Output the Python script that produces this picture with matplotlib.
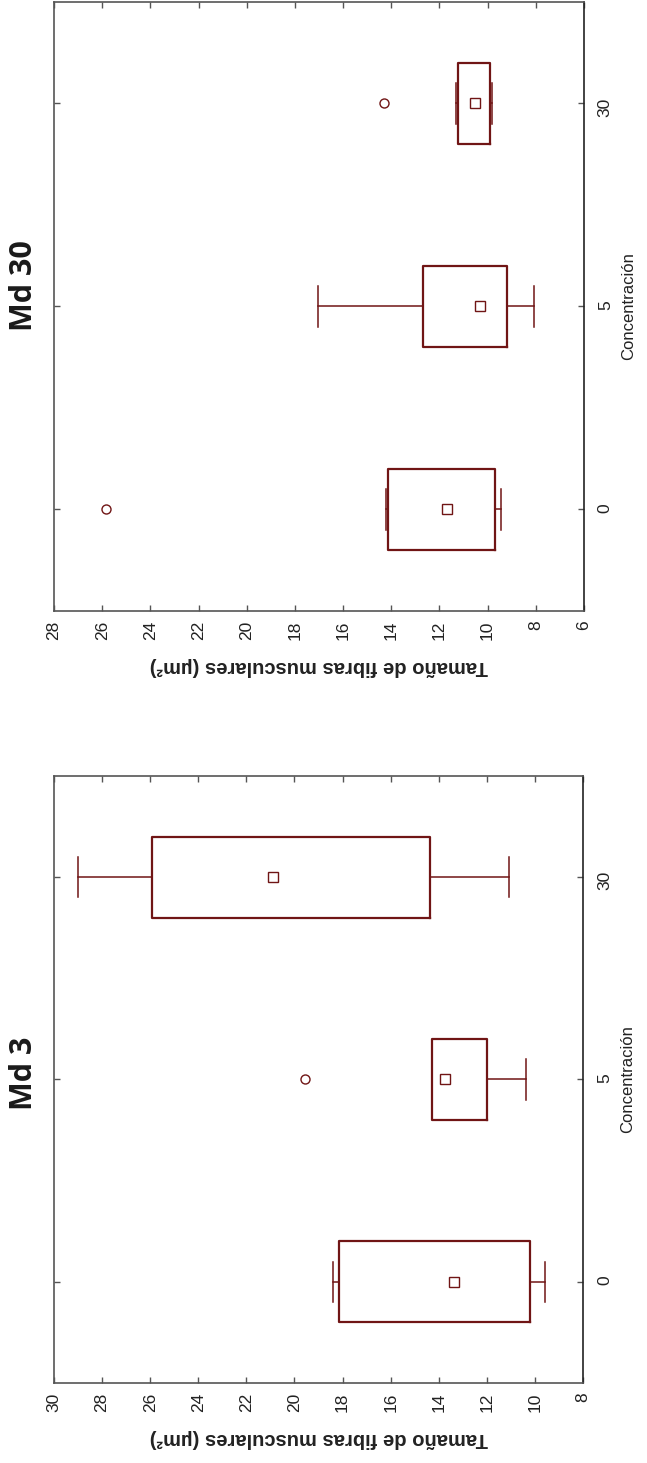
import matplotlib
matplotlib.use("Agg")
import matplotlib.pyplot as plt

plt.rcParams['font.family'] = ['Liberation Sans', 'DejaVu Sans']

concentraciones = ['0', '5', '30']

# Md 3: mediana, cuartiles, rango sin atípicos y atípicos
md3_med = [13.38, 13.74, 20.9]
md3_q1 = [10.2, 12.0, 14.37]
md3_q3 = [18.16, 14.27, 25.94]
md3_lo = [9.57, 10.37, 11.06]
md3_hi = [18.4, 14.27, 29.0]
md3_out = [[], [19.57], []]

# Md 30
md30_med = [11.7, 10.3, 10.54]
md30_q1 = [9.68, 9.2, 9.92]
md30_q3 = [14.15, 12.7, 11.24]
md30_lo = [9.44, 8.06, 9.82]
md30_hi = [14.22, 17.03, 11.31]
md30_out = [[25.84], [], [14.32]]

rojo = '#701515'
gris = '#555555'


def panel(ax, med, q1, q3, lo, hi, out, xmax, xmin):
    stats = []
    for i in range(len(med)):
        stats.append(dict(med=med[i], q1=q1[i], q3=q3[i], whislo=lo[i],
                          whishi=hi[i], fliers=out[i], label=concentraciones[i]))
    pos = list(range(len(stats)))
    ax.bxp(stats, positions=pos, orientation='horizontal', widths=0.4,
           capwidths=0.2, showfliers=True,
           boxprops=dict(color=rojo, linewidth=1.6),
           whiskerprops=dict(color=rojo, linewidth=1.1),
           capprops=dict(color=rojo, linewidth=1.1),
           medianprops=dict(visible=False),
           flierprops=dict(marker='o', markerfacecolor='none',
                           markeredgecolor=rojo, markersize=6.5,
                           markeredgewidth=1.0))
    # mediana como cuadrado
    ax.plot(med, pos, 's', mfc='none', mec=rojo, ms=6.5, mew=1.0, ls='none')

    ax.set_xlim(xmax, xmin)
    ax.set_xticks(range(xmin, xmax + 1, 2))
    ax.set_ylim(-0.5, 2.5)
    ax.set_yticks(pos)
    ax.set_yticklabels(concentraciones)
    ax.yaxis.tick_right()
    ax.yaxis.set_label_position('right')
    ax.tick_params(axis='both', direction='in', length=4, width=1,
                   color=gris, labelsize=12.5, labelcolor='#222222',
                   top=True, bottom=True, left=True, right=True)
    ax.tick_params(axis='x', labelrotation=90, pad=7)
    ax.tick_params(axis='y', labelrotation=90, pad=10)
    for s in ax.spines.values():
        s.set_color(gris)
        s.set_linewidth(1.2)
    ax.spines['right'].set_color('#222222')
    ax.set_ylabel('Concentración', rotation=90, fontsize=12,
                  color='#222222', labelpad=6)
    ax.set_xlabel('Tamaño de fibras musculares (µm²)', rotation=180,
                  fontsize=14.5, fontweight='bold', color='#222222',
                  labelpad=12)


fig = plt.figure(figsize=(6.47, 14.63), dpi=100)
ax30 = fig.add_axes([0.0835, 0.5824, 0.819, 0.4163])
ax3 = fig.add_axes([0.0835, 0.0547, 0.8176, 0.4149])

panel(ax3, md3_med, md3_q1, md3_q3, md3_lo, md3_hi, md3_out, 30, 8)
panel(ax30, md30_med, md30_q1, md30_q3, md30_lo, md30_hi, md30_out, 28, 6)

fig.text(24 / 647, 1 - 1073 / 1463, 'Md 3', rotation=90, ha='center',
         va='center', fontsize=22, fontweight='bold', family='Open Sans',
         color='#1a1a1a')
fig.text(24 / 647, 1 - 286 / 1463, 'Md 30', rotation=90, ha='center',
         va='center', fontsize=22, fontweight='bold', family='Open Sans',
         color='#1a1a1a')

fig.savefig('out.png', dpi=100)
